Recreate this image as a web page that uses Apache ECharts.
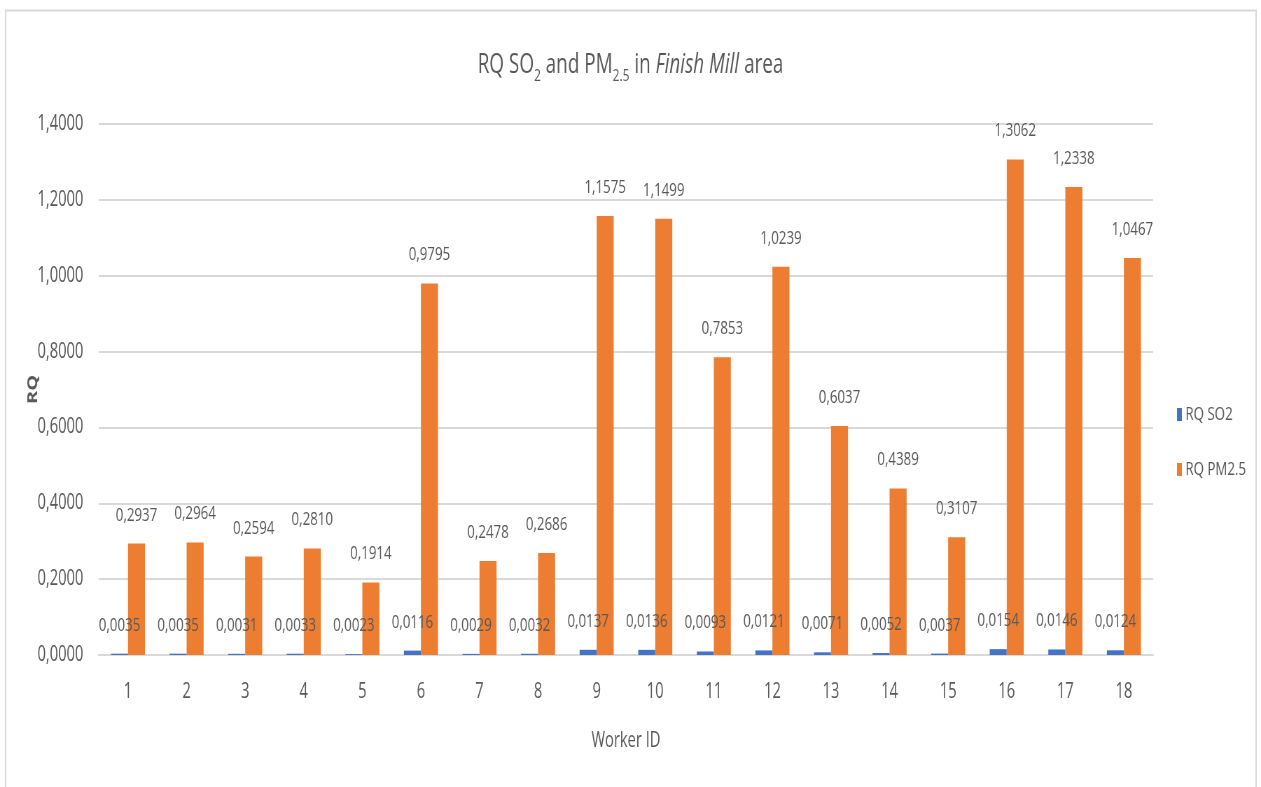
<!DOCTYPE html>
<html>
<head>
<meta charset="utf-8">
<script src="https://cdn.jsdelivr.net/npm/echarts@6/dist/echarts.min.js"></script>
<style>
  html, body { margin: 0; padding: 0; background: #ffffff; overflow: hidden; }
  #wrap { width: 1261px; height: 787px; overflow: hidden; }
  /* the chart is laid out wide and compressed horizontally into the 1261px frame */
  #chart { width: 1801px; height: 787px; transform: scaleX(0.70017); transform-origin: 0 0; }
</style>
</head>
<body>
<div id="wrap"><div id="chart"></div></div>
<script>
// Worker IDs along the category axis
const workerIds = ['1','2','3','4','5','6','7','8','9','10','11','12','13','14','15','16','17','18'];

// Risk quotient per worker, SO2
const rqSO2 = [0.0035, 0.0035, 0.0031, 0.0033, 0.0023, 0.0116, 0.0029, 0.0032, 0.0137,
               0.0136, 0.0093, 0.0121, 0.0071, 0.0052, 0.0037, 0.0154, 0.0146, 0.0124];

// Risk quotient per worker, PM2.5
const rqPM25 = [0.2937, 0.2964, 0.2594, 0.2810, 0.1914, 0.9795, 0.2478, 0.2686, 1.1575,
                1.1499, 0.7853, 1.0239, 0.6037, 0.4389, 0.3107, 1.3062, 1.2338, 1.0467];

// Y axis range and step
const yMin = 0, yMax = 1.4, yStep = 0.2;

const TEXT = '#595959';
const FONT = '"Open Sans", "Liberation Sans", sans-serif';
const fmt4 = v => Number(v).toFixed(4).replace('.', ',');

const chart = echarts.init(document.getElementById('chart'), null, { renderer: 'canvas' });

const barLabel = {
  show: true,
  position: 'top',
  distance: 19,
  color: TEXT,
  fontFamily: FONT,
  fontSize: 19,
  formatter: p => fmt4(p.value)
};

chart.setOption({
  backgroundColor: '#ffffff',
  animation: false,
  graphic: [{
    type: 'rect',
    shape: { x: 8, y: 10.5, width: 1786, height: 800 },
    style: { fill: 'none', stroke: '#d9d9d9', lineWidth: 2 },
    silent: true
  }],
  title: {
    text: '{n|RQ SO}{s|2}{n| and PM}{s|2.5}{n| in }{i|Finish Mill}{n| area}',
    left: 'center',
    top: 40,
    textStyle: {
      fontWeight: 'normal',
      rich: {
        n: { fontFamily: FONT, fontSize: 27, fontWeight: 'normal', color: TEXT, lineHeight: 30, verticalAlign: 'middle' },
        i: { fontFamily: FONT, fontSize: 27, fontWeight: 'normal', color: TEXT, fontStyle: 'italic', lineHeight: 30, verticalAlign: 'middle' },
        s: { fontFamily: FONT, fontSize: 17, fontWeight: 'normal', color: TEXT, lineHeight: 40, verticalAlign: 'bottom' }
      }
    }
  },
  legend: {
    orient: 'vertical',
    left: 1676,
    top: 400,
    itemWidth: 7,
    itemHeight: 13,
    itemGap: 36,
    icon: 'rect',
    textStyle: { color: TEXT, fontFamily: FONT, fontSize: 19 },
    data: ['RQ SO2', 'RQ PM2.5']
  },
  grid: {
    left: 141,
    right: 154,
    top: 124,
    bottom: 132,
    containLabel: false
  },
  xAxis: {
    type: 'category',
    data: workerIds,
    name: 'Worker ID',
    nameLocation: 'middle',
    nameGap: 76,
    nameTextStyle: { color: TEXT, fontFamily: FONT, fontSize: 21 },
    axisLine: { show: true, lineStyle: { color: '#d9d9d9', width: 2 } },
    axisTick: { show: false },
    axisLabel: { color: TEXT, fontFamily: FONT, fontSize: 21, margin: 27 }
  },
  yAxis: {
    type: 'value',
    min: yMin,
    max: yMax,
    interval: yStep,
    name: 'RQ',
    nameLocation: 'middle',
    nameGap: 84,
    nameRotate: 90,
    nameMoveOverlap: false,
    nameTextStyle: { color: TEXT, fontFamily: FONT, fontSize: 20, fontWeight: 'bold' },
    axisLine: { show: false },
    axisTick: { show: false },
    splitLine: { lineStyle: { color: '#d9d9d9', width: 2 } },
    axisLabel: { color: TEXT, fontFamily: FONT, fontSize: 21, margin: 22, formatter: v => fmt4(v) }
  },
  series: [
    {
      name: 'RQ SO2',
      type: 'bar',
      data: rqSO2,
      barWidth: 24.3,
      barGap: '0%',
      itemStyle: { color: '#4472c4' },
      label: barLabel
    },
    {
      name: 'RQ PM2.5',
      type: 'bar',
      data: rqPM25,
      barWidth: 24.3,
      barGap: '0%',
      itemStyle: { color: '#ed7d31' },
      label: barLabel
    }
  ]
});
</script>
</body>
</html>
